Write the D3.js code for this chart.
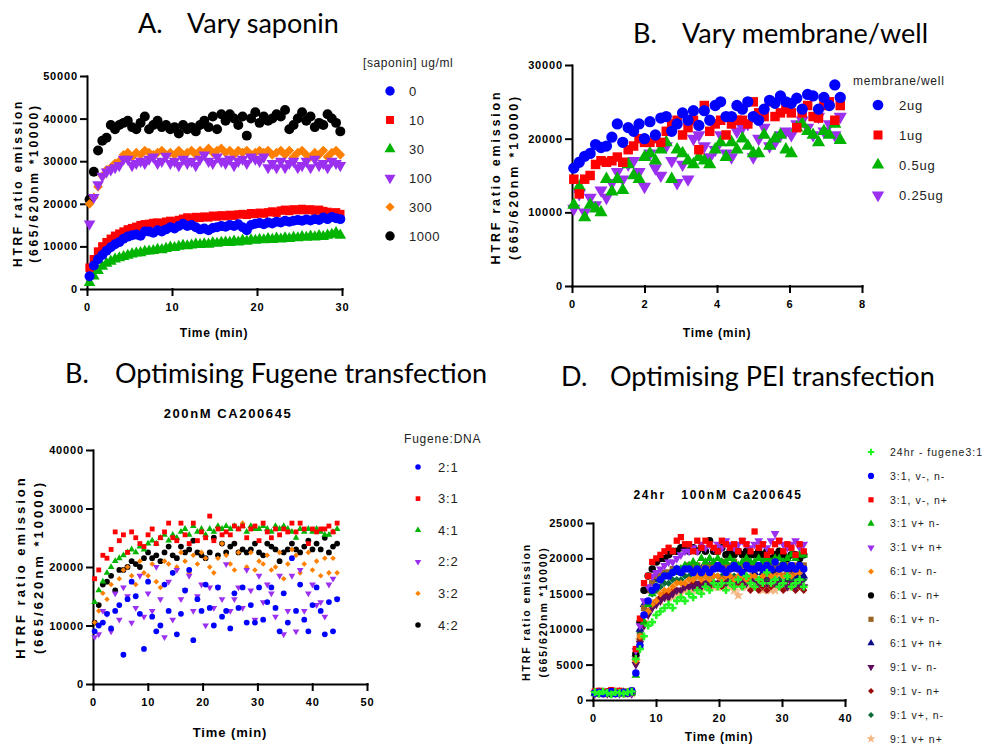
<!DOCTYPE html>
<meta charset="utf-8">
<style>
body { margin: 0; background: #fff; }
text { font-family: "Liberation Sans", Arial, sans-serif; }
.axis path, .axis line { stroke: #000; stroke-width: 2; stroke-linecap: square; }
.axis text { font-family: "Liberation Sans", Arial, sans-serif; font-weight: bold; font-size: 11px; letter-spacing: 0.85px; fill: #000; }
.atitle, .subtitle { font-weight: bold; fill: #000; white-space: pre; }
.heading { font-family: Lato, "Open Sans", sans-serif; font-size: 27px; fill: #000; }
.legend text { fill: #222; }
</style>
<script src="https://cdn.jsdelivr.net/npm/d3@7"></script>
<body>
<script>
// ---------- A. vary saponin (reads every 30 s) ----------
const saponinTimes = d3.range(60).map(i => 0.3 + 0.5 * i);
const saponinLabels = ['0', '10', '30', '100', '300', '1000'];
const saponin0 = [3000, 5500, 7000, 8000, 9000, 9800, 10500, 11000, 11800, 12300,
  12600, 12800, 12500, 13500, 13500, 13200, 13800, 13500, 14000, 14500,
  14200, 14800, 15300, 14800, 15000, 14500, 14000, 14200, 13800, 14300,
  14500, 14800, 14600, 15000, 14800, 15200, 14500, 13800, 15000, 15300,
  15500, 15200, 15600, 15400, 15800, 15600, 16000, 15800, 16000, 16200,
  16000, 16300, 16100, 16400, 16200, 16800, 16400, 16900, 16600, 16400];
const saponin10 = [5000, 7000, 8800, 10000, 11000, 11800, 12500, 13000, 13500, 14000,
  14300, 14600, 15000, 15200, 15300, 15500, 15600, 15400, 15800, 16000,
  15800, 16200, 16500, 16800, 16500, 16900, 16700, 17000, 16800, 17200,
  17000, 17300, 17100, 17400, 17200, 17500, 17600, 17400, 17800, 17600,
  17900, 17700, 18000, 18200, 17900, 18400, 18600, 18300, 18700, 18500,
  18800, 18500, 18700, 18400, 18600, 18300, 18100, 17800, 18000, 17600];
const saponin30 = [1500, 3000, 4300, 5300, 6000, 6500, 7000, 7300, 7600, 7900,
  8200, 8400, 8500, 8800, 8900, 9000, 9300, 9200, 9500, 9800,
  9700, 10000, 10200, 10100, 10300, 10500, 10400, 10600, 10500, 10800,
  10700, 10900, 11000, 10900, 11200, 11000, 11400, 11200, 11500, 11400,
  11600, 11500, 11800, 11600, 11900, 11700, 12000, 11800, 12100, 12000,
  12300, 12100, 12400, 12200, 12500, 12300, 12600, 12800, 13200, 12600];
const saponin100 = [15300, 21500, 24500, 26500, 27500, 28000, 28500, 29000, 30500, 30500,
  29000, 29500, 30000, 29500, 30500, 31000, 29500, 30000, 31200, 29500,
  30000, 29000, 30500, 29500, 30000, 29000, 30500, 31500, 30000, 29500,
  31000, 30000, 29500, 30500, 29000, 30000, 30500, 29500, 31000, 30500,
  30000, 31000, 28500, 29500, 28500, 30000, 28500, 29500, 30000, 28500,
  29000, 30000, 28500, 30500, 29000, 29500, 28500, 30000, 29500, 29000];
const saponin300 = [20000, 21500, 24000, 26500, 28000, 28500, 29500, 30000, 31500, 32000,
  31000, 32000, 31500, 32500, 32000, 31500, 32000, 32500, 31500, 32000,
  31500, 32500, 31500, 32000, 32500, 31500, 32500, 32000, 33000, 32000,
  32500, 33000, 32000, 32500, 31500, 32500, 32000, 32500, 31500, 32000,
  32500, 32000, 32500, 31500, 32000, 32500, 31500, 32500, 31000, 32000,
  32500, 31500, 31000, 32000, 31500, 32500, 31000, 32000, 32500, 31500];
const saponin1000 = [21000, 27500, 32500, 34800, 35500, 38500, 37500, 38500, 39000, 39500,
  38000, 37500, 39000, 40500, 37500, 38500, 39500, 38000, 38500, 37500,
  38000, 36500, 38500, 37500, 38000, 37000, 38500, 39500, 38000, 40500,
  37500, 41000, 39500, 41000, 40000, 38500, 40500, 36000, 40000, 41500,
  39000, 40500, 39500, 40000, 41000, 40500, 42000, 37500, 38500, 40000,
  41500, 39500, 40500, 38000, 39000, 38500, 41000, 40000, 39000, 37000];
const saponinXTicks = [0, 10, 20, 30];
const saponinYTicks = [0, 10000, 20000, 30000, 40000, 50000];

// ---------- B. vary membrane/well ----------
const membraneTimes = d3.range(50).map(i => 0.05 + 0.15 * i);
const membraneLabels = ['2ug', '1ug', '0.5ug', '0.25ug'];
const membrane2 = [16000, 16800, 17600, 18000, 19200, 18800, 19000, 20200, 22000, 19500,
  21500, 21000, 22000, 20000, 22300, 20500, 22800, 23000, 21000, 22000,
  23500, 22500, 23800, 21800, 23800, 22500, 24500, 25000, 23000, 23000,
  24500, 24000, 25000, 23000, 22500, 24000, 25200, 24800, 25800, 25000,
  24800, 25500, 24000, 26000, 25800, 24000, 25600, 24500, 27300, 25600];
const membrane1 = [14500, 12500, 14500, 15000, 16500, 17000, 16800, 17000, 17500, 16800,
  18500, 19000, 20000, 19500, 19500, 20000, 19500, 21000, 22000, 22500,
  20500, 21500, 22500, 18500, 24500, 21000, 22000, 22500, 20500, 22000,
  22500, 22500, 22000, 25000, 23500, 23000, 25000, 23000, 23500, 24000,
  23500, 21500, 23500, 24500, 23000, 22800, 24500, 25000, 22500, 24500];
const membrane05 = [11000, 13500, 9300, 11000, 10500, 10000, 14500, 12800, 14500, 13000,
  16500, 15000, 14500, 17500, 18000, 17000, 18500, 19500, 14500, 18500,
  18000, 17000, 16500, 17500, 17000, 16500, 18500, 19500, 17500, 19500,
  18500, 20000, 19000, 18000, 18000, 20500, 19000, 20000, 20500, 18500,
  18000, 21500, 22000, 21000, 20500, 19500, 21000, 20500, 22000, 19800];
const membrane025 = [10500, 12500, 10000, 12000, 11000, 13000, 12000, 14000, 15500, 14500,
  16500, 17000, 15500, 13500, 18000, 16000, 15000, 19000, 17000, 14000,
  16500, 14500, 20000, 20500, 19000, 17500, 18500, 20500, 18000, 17500,
  21000, 21500, 22000, 17500, 20000, 21500, 19000, 19500, 20500, 21000,
  20500, 22000, 22500, 21500, 20500, 23000, 21000, 22000, 20500, 23000];
const membraneXTicks = [0, 2, 4, 6, 8];
const membraneYTicks = [0, 10000, 20000, 30000];

// ---------- C. Fugene transfection ----------
const fugeneTimes = d3.range(60).map(i => 0.3 + 0.75 * i);
const fugeneLabels = ['2:1', '3:1', '4:1', '2:2', '3:2', '4:2'];
const fugene21 = [9000, 10000, 10500, 12000, 9500, 12500, 13500, 5000, 14500, 17500,
  15000, 12000, 6000, 17500, 11500, 9000, 10000, 17000, 12500, 19000,
  8500, 12000, 16000, 19500, 7500, 14500, 12500, 17000, 13000, 10000,
  16500, 11500, 12500, 9500, 15500, 13000, 16500, 10500, 13500, 10500,
  16500, 11000, 14000, 16500, 13000, 9000, 15500, 10500, 21500, 12500,
  17000, 11000, 9000, 13500, 16500, 12500, 8500, 14000, 9000, 14500];
const fugene31 = [18000, 19500, 22000, 21500, 23000, 26000, 24500, 25500, 22500, 26000,
  25000, 24000, 23500, 25500, 26500, 24000, 25000, 26000, 27500, 25000,
  24500, 27500, 25500, 24000, 27500, 24500, 26000, 25000, 28700, 24500,
  26500, 25500, 26000, 25500, 27000, 26500, 27000, 25000, 26500, 27000,
  24500, 27500, 26000, 25000, 26500, 25500, 26500, 26000, 27500, 26000,
  27500, 26500, 24000, 26500, 26000, 26500, 26500, 27000, 26000, 27500];
const fugene41 = [14000, 16000, 17500, 19000, 20000, 21000, 21500, 22000, 22500, 23000,
  22500, 23500, 23000, 24000, 24500, 24000, 25000, 25500, 24500, 25500,
  25000, 26000, 26500, 25500, 27000, 26000, 26500, 25500, 26500, 26000,
  27000, 26500, 27000, 26500, 27000, 26500, 27000, 26000, 27000, 26500,
  26500, 27000, 26500, 26000, 27000, 26500, 27000, 26500, 26000, 25000,
  26500, 26000, 26500, 26000, 26500, 26000, 25500, 25500, 26000, 26500];
const fugene22 = [8000, 8500, 12500, 12000, 9000, 15500, 11000, 16500, 15000, 10500,
  13000, 18500, 11500, 15500, 12500, 20000, 14500, 8000, 17500, 11000,
  19500, 14500, 16000, 18500, 12500, 15000, 17000, 10000, 16500, 13000,
  16500, 14500, 20500, 12500, 14500, 16500, 13000, 19500, 16000, 11000,
  18500, 14000, 17000, 15500, 11500, 18500, 8500, 12500, 18500, 9000,
  19500, 12500, 15500, 17000, 13500, 14000, 11500, 17000, 18000, 14500];
const fugene32 = [10500, 12500, 15500, 14500, 17000, 12500, 18000, 19500, 20000, 18500,
  17000, 21000, 19000, 18500, 20500, 17500, 16500, 21000, 20500, 19000,
  20000, 22500, 21000, 19000, 22000, 20500, 22500, 21500, 20000, 19000,
  21500, 24000, 22000, 20500, 19500, 22500, 27500, 20000, 22500, 19500,
  21000, 20500, 22000, 19500, 20000, 22500, 18000, 20500, 23000, 22000,
  19000, 20500, 22500, 19500, 21000, 18500, 21500, 19000, 21500, 19000];
const fugene42 = [10500, 13500, 17000, 17500, 18500, 16000, 19500, 19500, 20000, 21000,
  20500, 20000, 21500, 22500, 21500, 22000, 21000, 22500, 23500, 22000,
  21500, 23500, 22500, 23000, 24500, 22500, 22000, 21500, 22500, 25000,
  22000, 24000, 22500, 23500, 24000, 22500, 23000, 22500, 23000, 24000,
  22500, 22000, 24000, 23500, 23000, 21000, 22500, 23000, 24000, 23000,
  22500, 23500, 24500, 23000, 24000, 23000, 25000, 22500, 23500, 24000];
const fugeneXTicks = [0, 10, 20, 30, 40, 50];
const fugeneYTicks = [0, 10000, 20000, 30000, 40000];

// ---------- D. PEI transfection ----------
const peiTimes = d3.range(52).map(i => 0.3 + 0.65 * i);
const peiLabels = ['24hr - fugene3:1', '3:1, v-, n-', '3:1, v-, n+', '3:1 v+ n-', '3:1 v+ n+',
  '6:1 v- n-', '6:1 v- n+', '6:1 v+ n-', '6:1 v+ n+', '9:1 v- n-', '9:1 v- n+', '9:1 v+, n-', '9:1 v+ n+'];
const peiFugene = [1100, 900, 1200, 1000, 800, 1100, 1000, 900, 1100, 1200,
  5800, 7200, 9000, 10500, 11000, 12000, 12500, 13000, 13500, 13000,
  14000, 14500, 14000, 15000, 14500, 15500, 15000, 16000, 15500, 16500,
  16000, 16500, 15500, 16500, 16000, 17000, 16000, 17500, 16500, 16000,
  17000, 16500, 18000, 16500, 17000, 16000, 16500, 17500, 16000, 16500, 17000, 16000];
const pei31vmnm = [1000, 1100, 900, 1000, 1200, 900, 1000, 1100, 1000, 1300,
  3800, 7700, 12000, 14000, 15500, 16000, 17000, 17500, 17500, 18000,
  18500, 18000, 18500, 18500, 18000, 18500, 18000, 18500, 18000, 18500,
  19000, 18500, 18000, 18500, 19000, 18500, 18000, 19000, 18500, 18500,
  19000, 18500, 19000, 18500, 19500, 18500, 19000, 18500, 19000, 18500, 19000, 18500];
const pei31vmnp = [1200, 1300, 1100, 1200, 1400, 1200, 1300, 1100, 1200, 1300,
  7200, 11500, 16500, 17500, 19500, 20000, 20500, 21000, 21500, 21000,
  22500, 23000, 22000, 22000, 21000, 22500, 21500, 22500, 22000, 21500,
  21000, 22500, 22000, 21500, 22000, 21000, 22500, 22000, 21000, 23800,
  21500, 22000, 20500, 21000, 22000, 22500, 21000, 22000, 21500, 20500, 22000, 21000];
const pei31vpnm = [900, 1000, 1100, 900, 1000, 1000, 900, 1100, 1000, 1000,
  3500, 7500, 11000, 13500, 15000, 16000, 17000, 17500, 17500, 18000,
  18500, 18500, 19000, 19000, 19500, 19000, 20000, 19500, 20000, 19500,
  20000, 19500, 19500, 20000, 19500, 19000, 19500, 20000, 19500, 19500,
  20000, 19500, 20000, 19500, 20000, 20000, 19500, 20000, 20500, 20000, 20500, 20500];
const pei31vpnp = [1000, 1100, 1000, 1200, 1000, 1100, 1000, 1000, 1100, 1000,
  7000, 10500, 14000, 16000, 17500, 18000, 18500, 19000, 19500, 19500,
  20000, 20500, 21000, 21000, 21500, 21000, 22000, 21500, 22000, 21500,
  22000, 21500, 22500, 22000, 21500, 22000, 22500, 22000, 21500, 22000,
  22500, 22000, 21500, 22500, 23500, 22500, 22000, 21500, 22000, 22500, 21500, 22000];
const pei61vmnm = [1000, 900, 1100, 1000, 1000, 900, 1100, 1000, 900, 1000,
  5500, 9000, 11000, 12500, 13500, 14000, 15000, 15500, 15500, 16000,
  16500, 16500, 16500, 17000, 17000, 17500, 17000, 17500, 17000, 17500,
  17500, 17000, 17500, 17500, 17000, 17500, 17500, 17000, 17500, 17500,
  17000, 17500, 18000, 17500, 17500, 18000, 17500, 18000, 17500, 18000, 18000, 18500];
const pei61vmnp = [1100, 1000, 1000, 1100, 900, 1000, 1100, 1000, 1000, 1100,
  6500, 11000, 15500, 17500, 18500, 19500, 20000, 20000, 20500, 21000,
  21000, 21500, 21500, 21000, 21500, 21000, 21500, 21000, 22500, 21000,
  21000, 21500, 20500, 21000, 20500, 21000, 20500, 21000, 20500, 20500,
  21000, 20500, 21000, 20000, 20500, 21000, 20500, 20000, 20500, 20500, 20000, 20500];
const pei61vpnm = [1000, 1000, 1100, 900, 1000, 1100, 1000, 1000, 900, 1000,
  6000, 9000, 13000, 15500, 16500, 17500, 17500, 18000, 18000, 18500,
  18500, 18500, 18500, 19000, 19000, 19000, 18500, 19000, 19000, 19000,
  19000, 19500, 19000, 19000, 19500, 19000, 19000, 19500, 19000, 19000,
  19000, 19000, 19500, 19000, 19000, 19000, 19500, 19000, 19000, 19000, 19000, 19000];
const pei61vpnp = [1000, 1100, 1000, 1000, 900, 1000, 1100, 1000, 1000, 1100,
  6500, 10000, 13500, 15500, 16500, 17000, 17500, 17500, 17500, 18000,
  18000, 18000, 18500, 18500, 18500, 18500, 18500, 18500, 19000, 18500,
  18500, 18500, 18500, 18500, 18500, 18500, 18000, 18500, 18500, 18000,
  18500, 18000, 18500, 18000, 18000, 18000, 18500, 18000, 18000, 17500, 17500, 17500];
const pei91vmnm = [900, 1000, 1000, 900, 1100, 1000, 900, 1000, 1000, 900,
  5000, 8000, 10500, 12000, 13000, 13500, 14000, 14500, 14500, 15000,
  15500, 15500, 16000, 16000, 16000, 16500, 16000, 16500, 16500, 16500,
  16500, 17000, 16500, 17000, 16500, 17000, 17000, 16500, 17000, 17000,
  16500, 17000, 16500, 17000, 16500, 16500, 16500, 16000, 16500, 16000, 16500, 16000];
const pei91vmnp = [1000, 1000, 900, 1000, 1000, 1100, 1000, 900, 1000, 1000,
  5500, 8500, 11000, 12500, 13500, 14000, 14500, 15000, 15000, 15500,
  15500, 15500, 16000, 16000, 16500, 16000, 16500, 16500, 16000, 16500,
  16500, 16000, 16500, 16500, 16000, 16500, 16000, 16500, 15500, 16000,
  15500, 16000, 15500, 16000, 16500, 16000, 15500, 16000, 16000, 15500, 16000, 15500];
const pei91vpnm = [1000, 900, 1000, 1100, 1000, 900, 1000, 1100, 1000, 1000,
  6000, 9500, 12000, 14000, 15000, 15500, 16000, 16500, 16500, 17000,
  17000, 17000, 17500, 17500, 17000, 17500, 17500, 17500, 17000, 17500,
  17500, 17500, 17000, 17500, 17500, 17000, 17500, 17500, 17000, 17500,
  17000, 17500, 17000, 17500, 17000, 17000, 17500, 17000, 17000, 17500, 17000, 17000];
const pei91vpnp = [1000, 1000, 1000, 900, 1000, 1100, 1000, 1000, 900, 1000,
  5500, 8500, 11000, 12500, 13500, 14000, 14000, 14500, 14500, 14500,
  15000, 15000, 15500, 15500, 15500, 16000, 15500, 16000, 16000, 16000,
  16000, 16000, 16000, 16000, 15500, 14800, 16000, 16000, 16000, 16000,
  16000, 15500, 16000, 15500, 15500, 16000, 16000, 16000, 16000, 16000, 16000, 16000];
const peiXTicks = [0, 10, 20, 30, 40];
const peiYTicks = [0, 5000, 10000, 15000, 20000, 25000];

// ---------- drawing ----------
const svg = d3.select('body').append('svg')
  .attr('width', 995).attr('height', 746)
  .style('background', '#fff');

// diamond = square turned 45deg, down = triangle turned 180deg
const shapes = {
  circle: d3.symbolCircle, square: d3.symbolSquare, up: d3.symbolTriangle, down: d3.symbolTriangle,
  diamond: d3.symbolSquare, plus: d3.symbolCross, star: d3.symbolStar
};
const shapeScale = { circle: 1, square: 0.9, up: 0.75, down: 0.75, diamond: 0.6, plus: 0.75, star: 0.9 };
const shapeTurn = { down: 180, diamond: 45 };

function symbolPath(shape, size) {
  return d3.symbol(shapes[shape], size * shapeScale[shape])();
}
function turn(shape) {
  return shapeTurn[shape] ? ` rotate(${shapeTurn[shape]})` : '';
}

function heading(letter, text, x, x2, y) {
  svg.append('text').attr('class', 'heading').attr('x', x).attr('y', y).text(letter);
  svg.append('text').attr('class', 'heading').attr('x', x2).attr('y', y).text(text);
}

function drawPanel(p) {
  const x = d3.scaleLinear().domain(p.xDomain).range(p.xRange);
  const y = d3.scaleLinear().domain(p.yDomain).range(p.yRange);
  const g = svg.append('g');

  g.append('g').attr('class', 'axis')
    .attr('transform', `translate(0,${p.yRange[0]})`)
    .call(d3.axisBottom(x).tickValues(p.xTicks).tickFormat(d3.format('d'))
      .tickSize(6).tickSizeOuter(0).tickPadding(8));
  g.append('g').attr('class', 'axis')
    .attr('transform', `translate(${p.xRange[0]},0)`)
    .call(d3.axisLeft(y).tickValues(p.yTicks).tickFormat(d3.format('d'))
      .tickSize(6).tickSizeOuter(0).tickPadding(3));

  // first data set sits on top, so draw in reverse
  p.series.slice().reverse().forEach(s => {
    const d = symbolPath(s.shape, p.size);
    g.append('g').selectAll('path')
      .data(s.values.map((v, i) => [p.times[i], v]))
      .join('path')
      .attr('d', d)
      .attr('fill', s.color)
      .attr('transform', q => `translate(${x(q[0])},${y(q[1])})` + turn(s.shape));
  });

  // axis titles
  g.append('text').attr('class', 'atitle')
    .attr('x', p.xTitle[0]).attr('y', p.xTitle[1])
    .attr('text-anchor', 'middle')
    .style('font-size', p.xTitleSize + 'px').style('letter-spacing', p.xTitleLs + 'px')
    .text('Time (min)');
  ['HTRF ratio emission', '(665/620nm *10000)'].forEach((t, i) => {
    g.append('text').attr('class', 'atitle')
      .attr('transform', `translate(${p.yTitleX[i]},${p.yTitleY}) rotate(-90)`)
      .attr('text-anchor', 'middle').attr('dy', '0.36em')
      .style('font-size', p.yTitleSize + 'px').style('letter-spacing', p.yTitleLs + 'px')
      .text(t);
  });

  if (p.subtitle) {
    g.append('text').attr('class', 'subtitle')
      .attr('x', p.subtitle[1]).attr('y', p.subtitle[2])
      .attr('text-anchor', 'middle')
      .style('font-size', p.subtitle[3] + 'px').style('letter-spacing', p.subtitle[4] + 'px')
      .text(p.subtitle[0]);
  }

  // legend
  const L = p.legend;
  const lg = g.append('g').attr('class', 'legend');
  if (L.title) {
    lg.append('text').attr('x', L.titleX).attr('y', L.titleY)
      .style('font-size', L.titleSize + 'px').style('letter-spacing', L.titleLs + 'px')
      .text(L.title);
  }
  p.series.forEach((s, i) => {
    const yy = L.y0 + i * L.dy;
    lg.append('path')
      .attr('d', symbolPath(s.shape, L.size))
      .attr('fill', s.color)
      .attr('transform', `translate(${L.symX},${yy})` + turn(s.shape));
    lg.append('text').attr('x', L.textX).attr('y', yy).attr('dy', '0.36em')
      .style('font-size', L.fontSize + 'px').style('letter-spacing', L.ls + 'px')
      .text(s.label);
  });
}

const BLUE = '#0000ff', RED = '#ff0000', GREEN = '#00b400', PURPLE = '#9b30f0', ORANGE = '#ff8000', BLACK = '#000000';

heading('A.', 'Vary saponin', 138, 187, 33);
heading('B.', 'Vary membrane/well', 633, 682, 43);
heading('B.', 'Optimising Fugene transfection', 65, 115, 383);
heading('D.', 'Optimising PEI transfection', 561, 610, 386);

drawPanel({
  xDomain: [0, 30], yDomain: [0, 50000], xRange: [87, 342], yRange: [289, 76],
  xTicks: saponinXTicks, yTicks: saponinYTicks, times: saponinTimes, size: 78,
  series: [
    { label: saponinLabels[0], values: saponin0, color: BLUE, shape: 'circle' },
    { label: saponinLabels[1], values: saponin10, color: RED, shape: 'square' },
    { label: saponinLabels[2], values: saponin30, color: GREEN, shape: 'up' },
    { label: saponinLabels[3], values: saponin100, color: PURPLE, shape: 'down' },
    { label: saponinLabels[4], values: saponin300, color: ORANGE, shape: 'diamond' },
    { label: saponinLabels[5], values: saponin1000, color: BLACK, shape: 'circle' }
  ],
  xTitle: [214, 337], xTitleSize: 12, xTitleLs: 0.8,
  yTitleX: [18, 34], yTitleY: 183, yTitleSize: 12, yTitleLs: 2.7,
  legend: { title: '[saponin] ug/ml', titleX: 363, titleY: 67, titleSize: 12, titleLs: 0.6,
    symX: 390, textX: 409, y0: 91, dy: 29, size: 70, fontSize: 13, ls: 0.5 }
});

drawPanel({
  xDomain: [0, 8], yDomain: [0, 30000], xRange: [572, 862], yRange: [286, 65],
  xTicks: membraneXTicks, yTicks: membraneYTicks, times: membraneTimes, size: 100,
  series: [
    { label: membraneLabels[0], values: membrane2, color: BLUE, shape: 'circle' },
    { label: membraneLabels[1], values: membrane1, color: RED, shape: 'square' },
    { label: membraneLabels[2], values: membrane05, color: GREEN, shape: 'up' },
    { label: membraneLabels[3], values: membrane025, color: PURPLE, shape: 'down' }
  ],
  xTitle: [717, 337], xTitleSize: 12, xTitleLs: 0.8,
  yTitleX: [495, 513], yTitleY: 177, yTitleSize: 12.5, yTitleLs: 2.8,
  legend: { title: 'membrane/well', titleX: 853, titleY: 85, titleSize: 12, titleLs: 0.8,
    symX: 878, textX: 899, y0: 105, dy: 30, size: 90, fontSize: 13, ls: 0.8 }
});

drawPanel({
  xDomain: [0, 50], yDomain: [0, 40000], xRange: [93, 367], yRange: [684, 450],
  xTicks: fugeneXTicks, yTicks: fugeneYTicks, times: fugeneTimes, size: 26,
  series: [
    { label: fugeneLabels[0], values: fugene21, color: BLUE, shape: 'circle' },
    { label: fugeneLabels[1], values: fugene31, color: RED, shape: 'square' },
    { label: fugeneLabels[2], values: fugene41, color: GREEN, shape: 'up' },
    { label: fugeneLabels[3], values: fugene22, color: PURPLE, shape: 'down' },
    { label: fugeneLabels[4], values: fugene32, color: ORANGE, shape: 'diamond' },
    { label: fugeneLabels[5], values: fugene42, color: BLACK, shape: 'circle' }
  ],
  subtitle: ['200nM CA200645', 228, 418, 13, 1.6],
  xTitle: [230, 737], xTitleSize: 13, xTitleLs: 0.9,
  yTitleX: [20, 38], yTitleY: 567, yTitleSize: 13, yTitleLs: 3.0,
  legend: { title: 'Fugene:DNA', titleX: 404, titleY: 443, titleSize: 12, titleLs: 0.8,
    symX: 418, textX: 438, y0: 467, dy: 31.6, size: 24, fontSize: 13, ls: 0.8 }
});

drawPanel({
  xDomain: [0, 40], yDomain: [0, 25000], xRange: [593, 845], yRange: [700, 523],
  xTicks: peiXTicks, yTicks: peiYTicks, times: peiTimes, size: 44,
  series: [
    { label: peiLabels[0], values: peiFugene, color: '#22f522', shape: 'plus' },
    { label: peiLabels[1], values: pei31vmnm, color: BLUE, shape: 'circle' },
    { label: peiLabels[2], values: pei31vmnp, color: RED, shape: 'square' },
    { label: peiLabels[3], values: pei31vpnm, color: GREEN, shape: 'up' },
    { label: peiLabels[4], values: pei31vpnp, color: PURPLE, shape: 'down' },
    { label: peiLabels[5], values: pei61vmnm, color: ORANGE, shape: 'diamond' },
    { label: peiLabels[6], values: pei61vmnp, color: BLACK, shape: 'circle' },
    { label: peiLabels[7], values: pei61vpnm, color: '#9a6425', shape: 'square' },
    { label: peiLabels[8], values: pei61vpnp, color: '#0a0a8a', shape: 'up' },
    { label: peiLabels[9], values: pei91vmnm, color: '#5e0a5e', shape: 'down' },
    { label: peiLabels[10], values: pei91vmnp, color: '#9a0a0a', shape: 'diamond' },
    { label: peiLabels[11], values: pei91vpnm, color: '#0a6a3a', shape: 'diamond' },
    { label: peiLabels[12], values: pei91vpnp, color: '#f5b682', shape: 'star' }
  ],
  subtitle: ['24hr   100nM Ca200645', 718, 499, 12, 1.8],
  xTitle: [719, 741], xTitleSize: 12, xTitleLs: 0.8,
  yTitleX: [526, 543], yTitleY: 612, yTitleSize: 10.5, yTitleLs: 1.9,
  legend: { titleX: 0, titleY: 0,
    symX: 871, textX: 890, y0: 452, dy: 23.9, size: 30, fontSize: 10.5, ls: 1.0 }
});
</script>
</body>
